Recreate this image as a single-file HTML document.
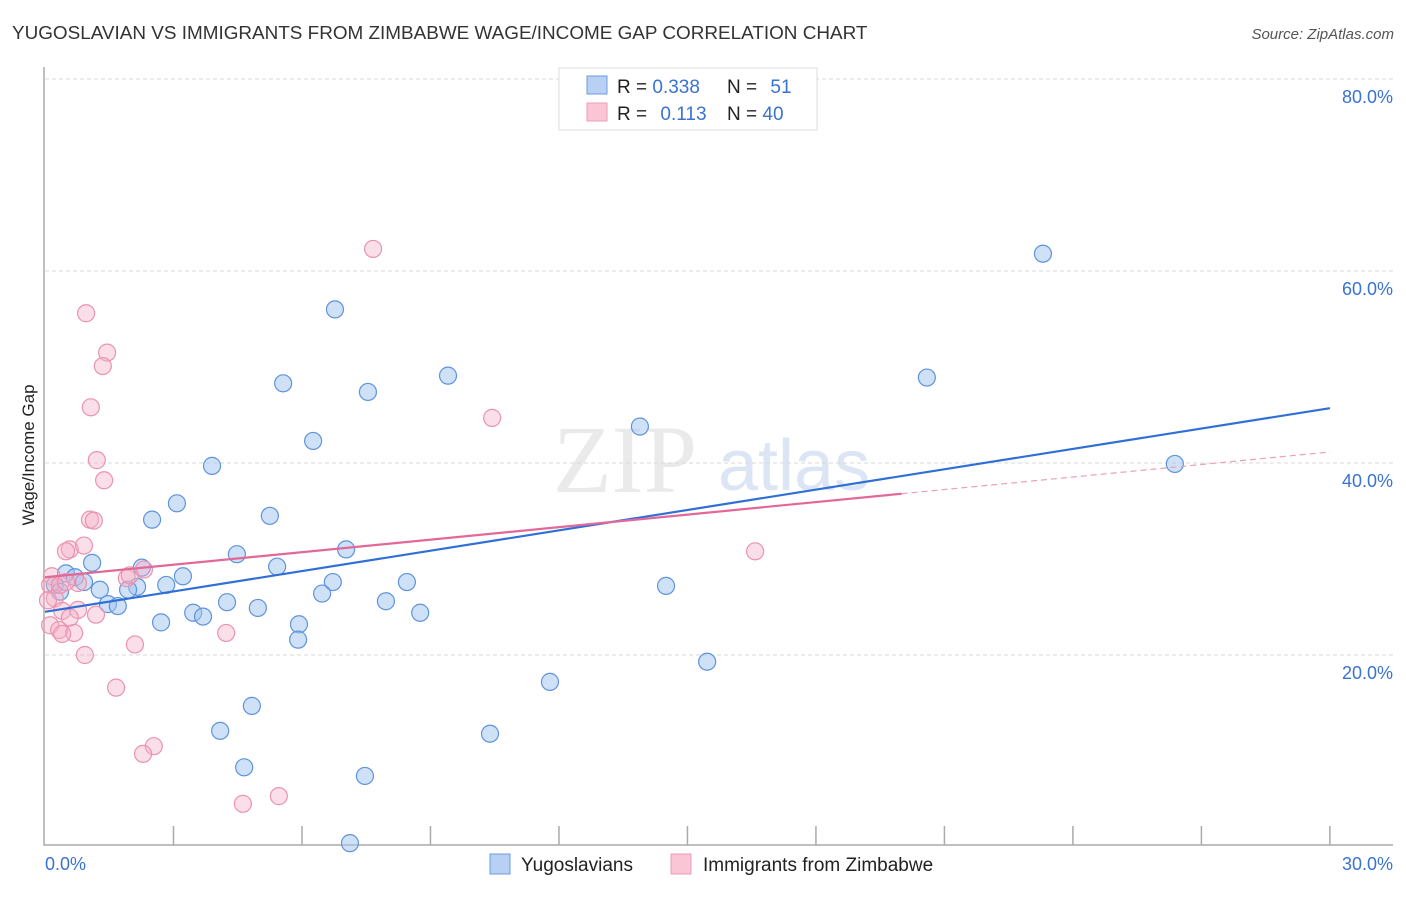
<!DOCTYPE html>
<html><head><meta charset="utf-8"><style>
body{margin:0;background:#fff;font-family:"Liberation Sans",sans-serif}
</style></head><body>
<svg id="c" width="1406" height="892" xmlns="http://www.w3.org/2000/svg" font-family="Liberation Sans, sans-serif">
<text x="12" y="39" font-size="18.9" fill="#333">YUGOSLAVIAN VS IMMIGRANTS FROM ZIMBABWE WAGE/INCOME GAP CORRELATION CHART</text>
<text x="1394" y="39" font-size="15" fill="#555" font-style="italic" text-anchor="end">Source: ZipAtlas.com</text>
<g opacity="0.5">
<text x="553" y="492" font-size="96" font-family="Liberation Serif, serif" fill="#d6d6d6">ZIP</text>
<text x="718" y="490" font-size="72" fill="#b9cdea">atlas</text>
</g>
<g id="grid"></g>
<g id="axes"></g>
<g id="pts"></g>
<g id="lines"></g>
<text transform="translate(34,455) rotate(-90)" font-size="17" fill="#222" text-anchor="middle">Wage/Income Gap</text>
<g>
<rect x="559" y="68" width="258" height="62" fill="#fff" stroke="#ddd"/>
<rect x="587" y="76" width="20" height="18" fill="#b8d0f3" stroke="#6d9be0"/>
<rect x="587" y="103" width="20" height="18" fill="#fac5d5" stroke="#ee9db6"/>
<text x="617" y="93" font-size="19" fill="#222">R = <tspan fill="#3a72d1">0.338</tspan></text>
<text x="727" y="93" font-size="19" fill="#222">N = <tspan fill="#3a72d1" dx="8">51</tspan></text>
<text x="617" y="120" font-size="19" fill="#222">R = <tspan fill="#3a72d1" dx="8">0.113</tspan></text>
<text x="727" y="120" font-size="19" fill="#222">N = <tspan fill="#3a72d1">40</tspan></text>
</g>
<g>
<rect x="490" y="854" width="20" height="20" fill="#b8d0f3" stroke="#6d9be0"/>
<text x="521" y="871" font-size="19" fill="#222">Yugoslavians</text>
<rect x="671" y="854" width="20" height="20" fill="#fac5d5" stroke="#ee9db6"/>
<text x="703" y="871" font-size="19" fill="#222">Immigrants from Zimbabwe</text>
</g>
</svg>
<script>
const blueX=[23.30,6.77,5.56,9.41,7.54,20.59,6.26,13.89,26.38,3.90,3.08,2.50,5.25,4.48,7.03,1.10,2.26,5.42,3.22,0.49,0.70,0.91,6.72,8.45,14.50,2.83,2.15,1.28,1.94,0.23,0.35,6.47,1.47,1.70,7.96,4.25,4.97,3.46,3.69,8.76,2.71,5.93,5.91,15.46,11.79,4.09,4.83,10.39,4.65,7.47,7.12];
const blueY=[61.8,56.0,48.3,49.1,47.4,48.9,42.3,43.8,39.9,39.7,35.8,34.1,34.5,30.5,31.0,29.6,29.1,29.2,28.2,28.5,28.1,27.6,27.6,27.6,27.2,27.3,27.1,26.8,26.8,27.3,26.6,26.4,25.3,25.1,25.6,25.5,24.9,24.4,24.0,24.4,23.4,23.2,21.6,19.3,17.2,12.1,14.7,11.8,8.3,7.4,0.4];
const pinkX=[7.66,0.96,1.45,1.35,1.07,10.44,1.21,1.38,1.05,1.14,0.58,0.91,0.49,16.58,2.31,1.91,0.16,0.12,0.77,0.23,0.40,0.77,1.19,0.58,0.12,0.33,0.68,0.40,4.23,2.10,0.93,1.66,2.54,2.29,4.62,5.46,1.98,0.35,0.07,0.49];
const pinkY=[62.3,55.6,51.5,50.1,45.8,44.7,40.3,38.2,34.1,34.0,31.0,31.4,30.8,30.8,28.9,28.0,28.2,27.3,27.5,25.9,24.6,24.7,24.2,23.9,23.1,22.6,22.3,22.2,22.3,21.1,20.0,16.6,10.5,9.7,4.5,5.3,28.3,27.3,25.7,27.6];
const blueTrend=[24.5,0.707];
const pinkTrend=[28.1,0.435,20.0];
const xTicks=[0,3,6,9,12,15,18,21,24,27,30];
const yTicks=[20,40,60,80];
const yTickLabels=["20.0%","40.0%","60.0%","80.0%"];
const xLabels=[[0,"0.0%"],[30,"30.0%"]];
const NS="http://www.w3.org/2000/svg";
const X=v=>45+v*42.83, Y=v=>847-v*9.6;
function mk(t,a,p){const e=document.createElementNS(NS,t);for(const k in a)e.setAttribute(k,a[k]);document.getElementById(p).appendChild(e);return e;}
yTicks.forEach((v,i)=>{
 const l=mk('line',{x1:45,x2:1393,y1:Y(v),y2:Y(v),stroke:'#d8d8d8','stroke-dasharray':'4,3'},'grid');
 
 
 const t=mk('text',{x:1393,y:Y(v)+24,'font-size':18,fill:'#3a72d1','text-anchor':'end'},'grid');
 t.textContent=yTickLabels[i];
 
 
});
const ax=mk('path',{d:'M44,67V845H1393',fill:'none',stroke:'#aaa','stroke-width':1.5},'axes');


xTicks.forEach(v=>{if(v===0)return;
 const t=mk('line',{x1:X(v),x2:X(v),y1:826,y2:845,stroke:'#aaa','stroke-width':1.5},'axes');
 
 
});
xLabels.forEach(([v,s])=>{
 const t=mk('text',{x:v===0?X(v):1393,y:870,'font-size':18,fill:'#3a72d1','text-anchor':v===0?'start':'end'},'axes');
 t.textContent=s;
 
 
});
blueX.forEach((x,i)=>{
 const c=mk('circle',{cx:X(x),cy:Y(blueY[i]),r:8.5,fill:'rgba(160,195,240,0.5)',stroke:'#5f93dc','stroke-width':1.2},'pts');
 
 
});
pinkX.forEach((x,i)=>{
 const c=mk('circle',{cx:X(x),cy:Y(pinkY[i]),r:8.5,fill:'rgba(246,175,198,0.4)',stroke:'#eb93ae','stroke-width':1.2},'pts');
 
 
});
const bl=mk('line',{x1:X(0),y1:Y(blueTrend[0]),x2:X(30),y2:Y(blueTrend[0]+blueTrend[1]*30),stroke:'#2f6fd6','stroke-width':2.2},'lines');


const pe=pinkTrend[2];
const pl=mk('line',{x1:X(0),y1:Y(pinkTrend[0]),x2:X(pe),y2:Y(pinkTrend[0]+pinkTrend[1]*pe),stroke:'#e2689a','stroke-width':2.2},'lines');


const pd=mk('line',{x1:X(pe),y1:Y(pinkTrend[0]+pinkTrend[1]*pe),x2:X(30),y2:Y(pinkTrend[0]+pinkTrend[1]*30),stroke:'#e9a0bb','stroke-width':1.2,'stroke-dasharray':'6,4'},'lines');


</script>
</body></html>
